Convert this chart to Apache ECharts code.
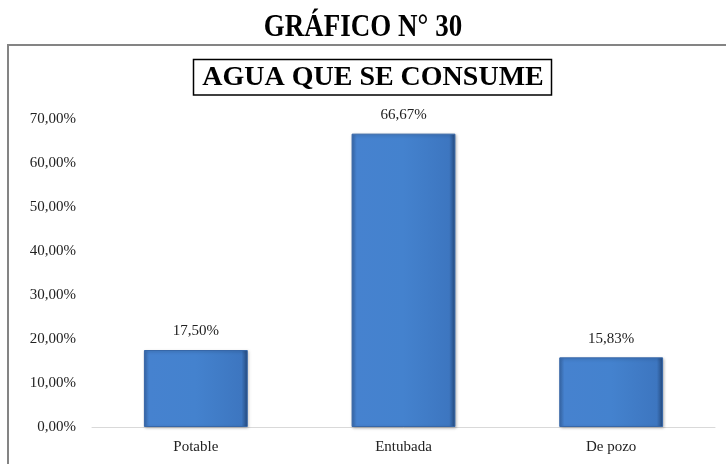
<!DOCTYPE html>
<html>
<head>
<meta charset="utf-8">
<script src="https://cdn.jsdelivr.net/npm/echarts@6/dist/echarts.min.js"></script>
<style>
  html, body { margin: 0; padding: 0; background: #fff; }
  #chart { width: 726px; height: 464px; }
</style>
</head>
<body>
<div id="chart"></div>
<script>
// data
const categories = ['Potable', 'Entubada', 'De pozo'];
const percentValues = [17.50, 66.67, 15.83];
const yTicks = { min: 0, max: 70, step: 10 };

const serif = '"Liberation Serif", "Times New Roman", serif';
const fmtPct = (v) => Number(v).toFixed(2).replace('.', ',') + '%';

let chart = echarts.init(document.getElementById('chart'));

chart.setOption({
    animation: false,
    // titles drawn as graphic text so their proportions can be nudged like the original
    graphic: [
        {
            type: 'rect',
            shape: { x: 8, y: 45, width: 740, height: 440 },
            style: { fill: 'none', stroke: '#848484', lineWidth: 2 },
            silent: true
        },
        {
            type: 'text',
            x: 363, y: 28,
            scaleY: 1.15,
            style: {
                text: 'GRÁFICO N° 30',
                fontFamily: serif, fontWeight: 'bold', fontSize: 27,
                fill: '#000', align: 'center', verticalAlign: 'middle'
            },
            silent: true
        },
        {
            type: 'rect',
            shape: { x: 193.5, y: 59.5, width: 358, height: 35.5 },
            style: { fill: 'none', stroke: '#000', lineWidth: 1.5 },
            silent: true
        },
        {
            type: 'text',
            x: 373, y: 78,
            scaleY: 0.95,
            style: {
                text: 'AGUA QUE SE CONSUME',
                fontFamily: serif, fontWeight: 'bold', fontSize: 28,
                fill: '#000', align: 'center', verticalAlign: 'middle'
            },
            silent: true
        }
    ],
    grid: { left: 92, right: 11, top: 119, bottom: 37 },
    xAxis: {
        type: 'category',
        data: categories,
        axisTick: { show: false },
        axisLine: { lineStyle: { color: '#d9d9d9', width: 1 } },
        axisLabel: { fontFamily: serif, fontSize: 15, color: '#222', margin: 13 }
    },
    yAxis: {
        type: 'value',
        min: yTicks.min,
        max: yTicks.max,
        interval: yTicks.step,
        splitLine: { show: false },
        axisLine: { show: false },
        axisTick: { show: false },
        axisLabel: {
            fontFamily: serif, fontSize: 15, color: '#222', margin: 16,
            formatter: fmtPct
        }
    },
    series: [
        {
            type: 'bar',
            data: percentValues,
            barWidth: '50%',
            itemStyle: {
                color: {
                    type: 'linear', x: 0, y: 0, x2: 1, y2: 0,
                    colorStops: [
                        { offset: 0, color: '#3a6cb0' },
                        { offset: 0.05, color: '#4682cf' },
                        { offset: 0.5, color: '#4482ce' },
                        { offset: 0.94, color: '#3d76c0' },
                        { offset: 1, color: '#24497c' }
                    ]
                },
                borderColor: '#3767a8',
                borderWidth: 1,
                shadowColor: 'rgba(0,0,0,0.25)',
                shadowBlur: 3,
                shadowOffsetX: 1,
                shadowOffsetY: 1
            },
            label: {
                show: true,
                position: 'top',
                distance: 11,
                fontFamily: serif,
                fontSize: 15,
                color: '#222',
                formatter: (p) => fmtPct(p.value)
            }
        }
    ]
});
</script>
</body>
</html>
